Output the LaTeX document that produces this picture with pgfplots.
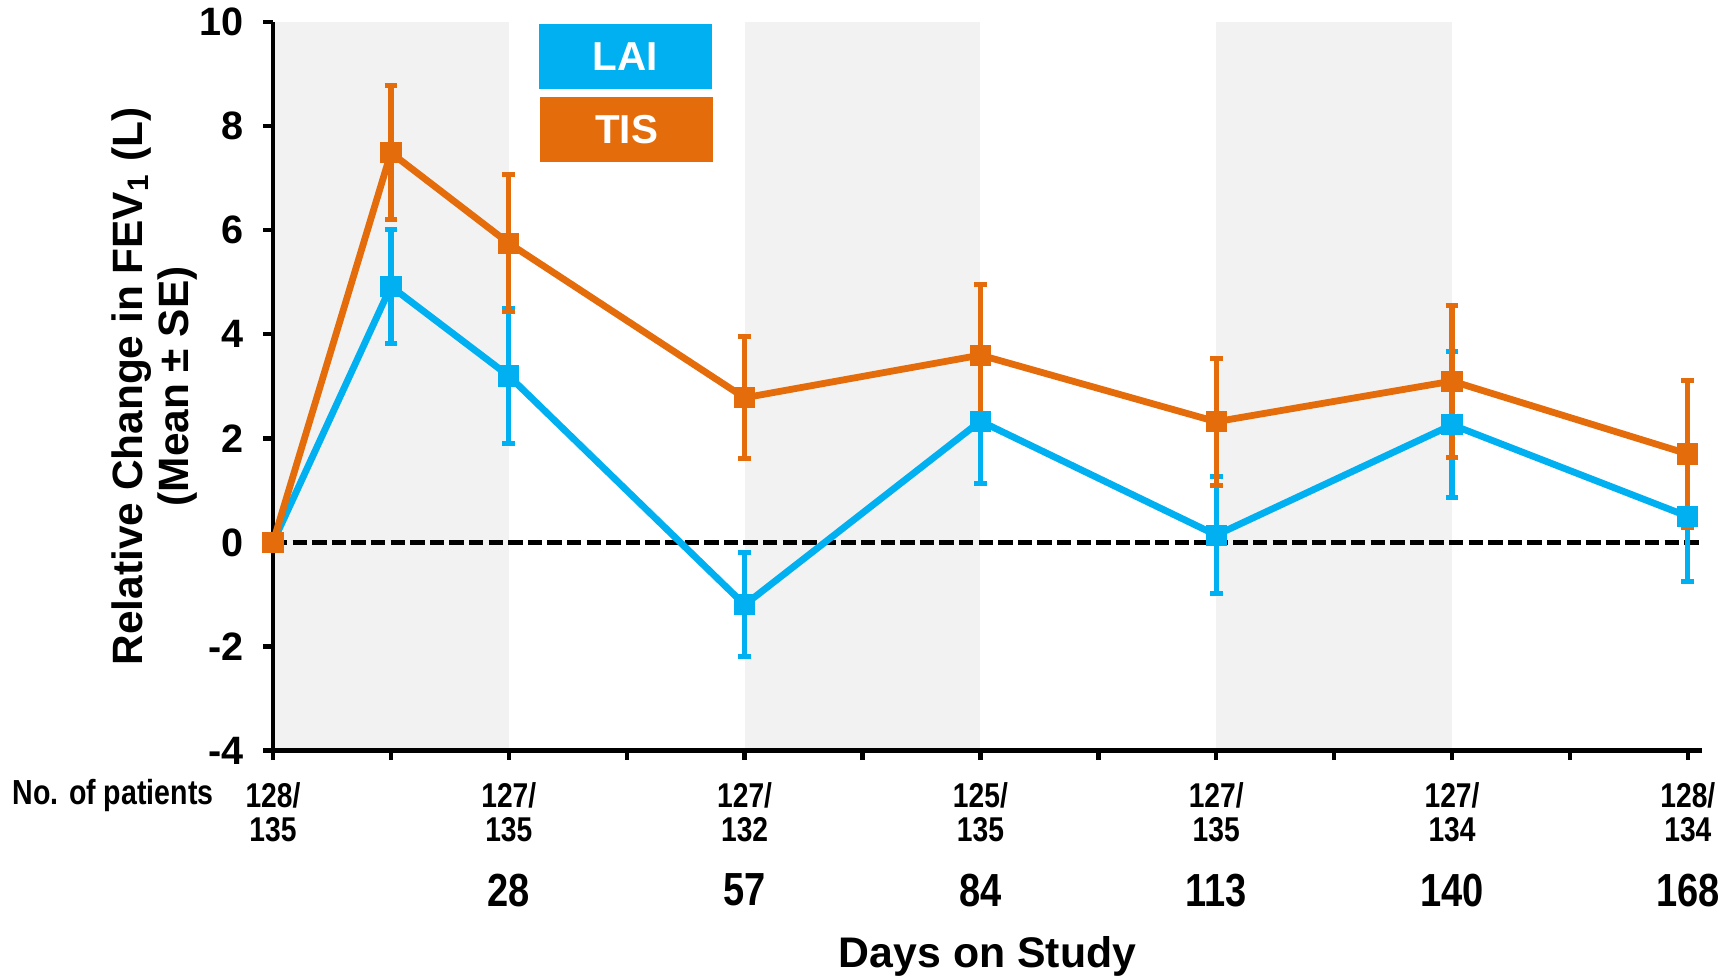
\documentclass[border=0pt]{standalone}
\usepackage{fontspec}
\setmainfont{Liberation Sans}
\newfontfamily\narrowfont{Liberation Sans}[FakeStretch=0.82]
\usepackage{pgfplots}
\pgfplotsset{compat=1.18}
\definecolor{lai}{HTML}{00B0F0}
\definecolor{tis}{HTML}{E46C0A}
\definecolor{bandgray}{HTML}{F2F2F2}
\pgfplotstableread{
x y e
0 0 0
1 4.92 1.1
2 3.2 1.3
4 -1.2 1.0
6 2.33 1.2
8 0.14 1.12
10 2.26 1.4
12 0.5 1.26
}\lai
\pgfplotstableread{
x y e
0 0 0
1 7.49 1.29
2 5.75 1.32
4 2.78 1.17
6 3.6 1.35
8 2.32 1.22
10 3.1 1.46
12 1.7 1.42
}\tis
\tikzset{daynum/.style={font=\narrowfont\fontsize{11.6}{12}\selectfont\bfseries, yshift=-34.9pt}}
\begin{document}
\begin{tikzpicture}
\begin{axis}[
 scale only axis, width=357.25pt, height=182.1pt,
 xmin=0, xmax=12.12, ymin=-4, ymax=10,
 axis x line*=bottom, axis y line*=left,
 axis line style={line width=1.1pt},
 clip=false,
 ytick={-4,-2,...,10}, yticklabels={-4,-2,0,2,4,6,8,10},
 yticklabel style={font=\fontsize{9.9}{11}\selectfont\bfseries, xshift=-1.4pt},
 xtick={0,...,12},
 xticklabels={{128/\\135},,{127/\\135},,{127/\\132},,{125/\\135},,{127/\\135},,{127/\\134},,{128/\\134}},
 xticklabel style={font=\narrowfont\fontsize{8.6}{8.7}\selectfont\bfseries, align=center, yshift=-2.0pt},
 tick align=outside, major tick length=2.4pt, tick style={line width=1.1pt, black},
 xlabel={Days on Study},
 xlabel style={at={(axis description cs:0.5,0)}, anchor=center, yshift=-51.6pt, font=\fontsize{10.7}{12}\selectfont\bfseries},
 ylabel={Relative Change in FEV\textsubscript{1} (L)\\(Mean ± SE)},
 ylabel style={at={(axis description cs:-0.083,0.5)}, anchor=center, align=center, font=\fontsize{10.6}{11.5}\selectfont\bfseries},
]
\coordinate (O) at (axis cs:0,-4);
\fill[bandgray] (axis cs:0.02,-3.96) rectangle (axis cs:2,10);
\fill[bandgray] (axis cs:4,-3.96) rectangle (axis cs:6,10);
\fill[bandgray] (axis cs:8,-3.96) rectangle (axis cs:10,10);
\addplot[black, line width=1.1pt, dash pattern=on 3.6pt off 1.3pt, forget plot] coordinates {(0,0) (12.12,0)};
\addplot[lai, line width=1.7pt, mark=square*, mark size=2.5pt, mark options={solid, line width=0.3pt},
 error bars/.cd, y dir=both, y explicit, error bar style={line width=1.3pt}, error mark=-, error mark options={line width=1.25pt, mark size=1.6pt, rotate=90}]
 table[x=x, y=y, y error=e] {\lai};
\addplot[tis, line width=1.7pt, mark=square*, mark size=2.5pt, mark options={solid, line width=0.3pt},
 error bars/.cd, y dir=both, y explicit, error bar style={line width=1.3pt}, error mark=-, error mark options={line width=1.25pt, mark size=1.6pt, rotate=90}]
 table[x=x, y=y, y error=e] {\tis};
\node[fill=lai, text=white, minimum width=43.25pt, minimum height=16.25pt, inner sep=0pt, font=\fontsize{10.1}{11}\selectfont\bfseries] at (axis cs:2.99,9.337) {LAI};
\node[fill=tis, text=white, minimum width=43.25pt, minimum height=16.25pt, inner sep=0pt, font=\fontsize{10.1}{11}\selectfont\bfseries] at (axis cs:3.0,7.934) {TIS};
\node[daynum] at (axis cs:2,-4) {28};
\node[daynum] at (axis cs:4,-4) {57};
\node[daynum] at (axis cs:6,-4) {84};
\node[daynum] at (axis cs:8,-4) {113};
\node[daynum] at (axis cs:10,-4) {140};
\node[daynum] at (axis cs:12,-4) {168};
\node[font=\narrowfont\fontsize{8.7}{9}\selectfont\bfseries, anchor=base, xshift=-40pt, yshift=-13.4pt] at (axis cs:0,-4) {No. of patients};
\end{axis}
\pgfresetboundingbox
\path ([shift={(-68.25pt,-57.125pt)}]O) rectangle ([shift={(365pt,187.625pt)}]O);
\end{tikzpicture}
\end{document}
